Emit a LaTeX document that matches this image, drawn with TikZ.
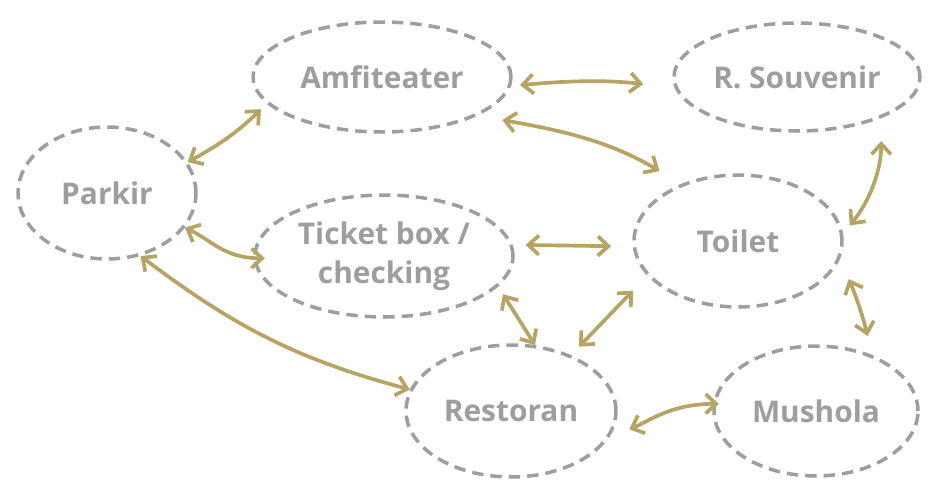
\documentclass[tikz,border=0pt]{standalone}
\usepackage{fontspec}
\setsansfont{Open Sans}
\usepackage{xcolor}
\usepackage{tikz}
\usetikzlibrary{shapes.geometric,arrows.meta,positioning}

\definecolor{spotgray}{HTML}{9E9E9E}
\definecolor{routegold}{HTML}{B5A463}

\begin{document}
\begin{tikzpicture}[
    x=0.02cm, y=-0.02cm,
    font=\sffamily\bfseries\fontsize{17}{22}\selectfont,
    spot/.style={ellipse, draw=spotgray, dash pattern=on 6.5pt off 4pt, line width=2pt, text=spotgray, inner sep=0pt, align=center},
    route/.style={<->, >={Straight Barb[length=6pt,width=11pt]}, line width=2.1pt, color=routegold, line cap=round, line join=round}
]

    \useasboundingbox (0,0) rectangle (937,481);

    \node[spot, minimum width=5.16cm, minimum height=2.2cm] (amf) at (382,77) {Amfiteater};
    \node[spot, minimum width=4.92cm, minimum height=2.16cm] (souv) at (797,77) {R. Souvenir};
    \node[spot, minimum width=3.56cm, minimum height=2.64cm] (park) at (107,193) {Parkir};
    \node[spot, minimum width=5.16cm, minimum height=2.44cm] (tick) at (384,256) {Ticket box /\\checking};
    \node[spot, minimum width=4.16cm, minimum height=2.64cm] (toil) at (738,241) {Toilet};
    \node[spot, minimum width=4.2cm, minimum height=2.64cm] (rest) at (511,411) {Restoran};
    \node[spot, minimum width=4.08cm, minimum height=2.6cm] (mush) at (816,411) {Mushola};

    \draw[route, shorten >=0.16cm] (park.21) to[bend right=8] (amf.193);
    \draw[route, shorten <=0.18cm, shorten >=0.63cm] (amf.-4) to[bend left=6] (souv.185);
    \draw[route, shorten <=0.5cm, shorten >=0.5cm] (amf.-22) to[out=-10,in=149] (toil.135);
    \draw[route, shorten >=-0.23cm] (park.-24) to[out=-25,in=180] (tick.181);
    \draw[route] (park.-62) to[out=-37,in=165] (rest.168);
    \draw[route, shorten <=0.26cm, shorten >=0.43cm] (tick.5) -- (toil.183);
    \draw[route, shorten <=0.18cm] (tick.-15) -- (rest.70);
    \draw[route, shorten <=0.41cm, shorten >=0.23cm] (toil.201) -- (rest.43);
    \draw[route, shorten <=0.46cm, shorten >=0.21cm] (souv.-26) to[out=-90,in=51] (toil.4);
    \draw[route, shorten <=0.44cm, shorten >=0.39cm] (toil.-10) to[bend left=5] (mush.45);
    \draw[route, shorten <=0.43cm, shorten >=-0.12cm] (rest.-15) to[out=22,in=180] (mush.176);

\end{tikzpicture}
\end{document}
